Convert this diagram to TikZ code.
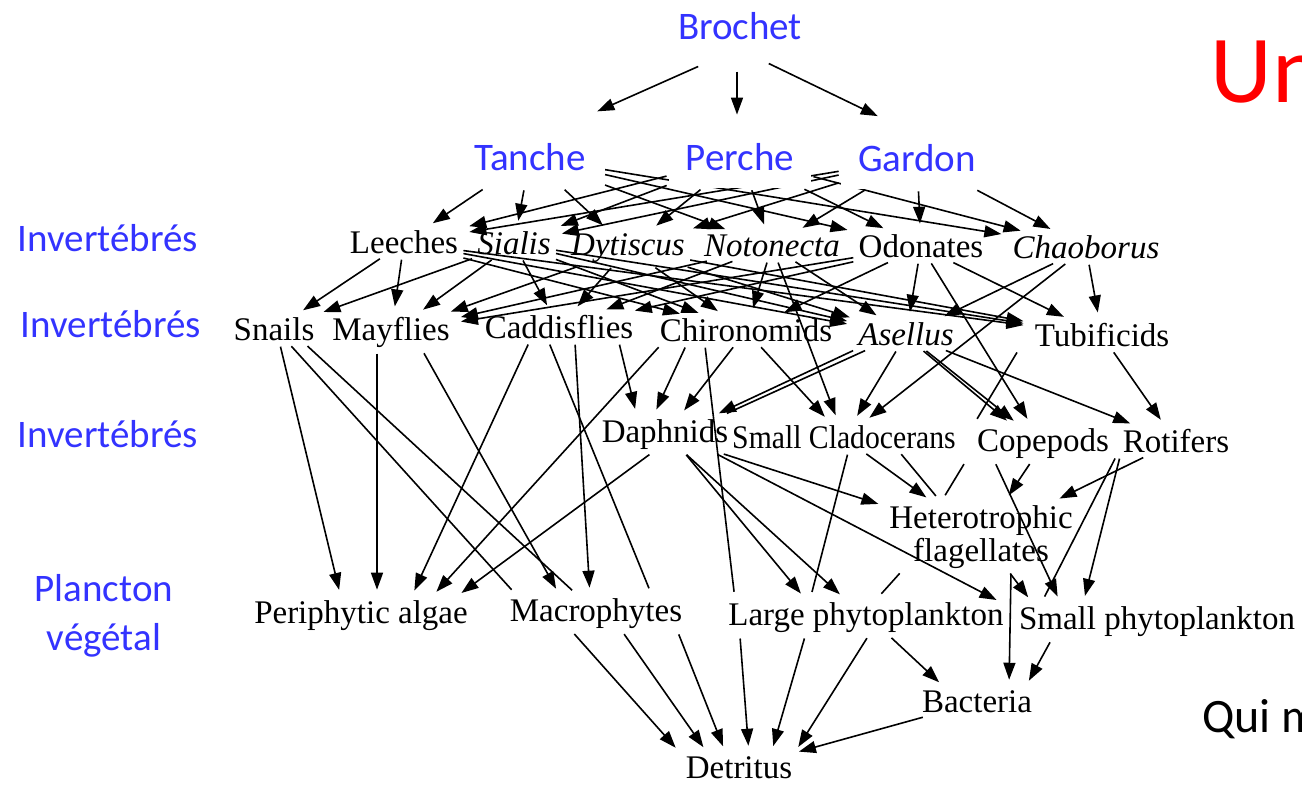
\documentclass[tikz,border=0pt]{standalone}
\usepackage{fontspec}
\setmainfont{Liberation Serif}
\newfontfamily\slidefont{Carlito}
\newfontfamily\narrowserif[FakeStretch=0.9]{Liberation Serif}
\usetikzlibrary{arrows.meta}
\definecolor{slideblue}{RGB}{51,51,255}
\pgfdeclarelayer{background}
\pgfsetlayers{background,main}

\begin{document}
\begin{tikzpicture}[x=0.5pt,y=-0.5pt,
  taxon/.style={font=\fontsize{16.5}{19}\selectfont,inner sep=1.5pt,anchor=base},
  genus/.style={taxon,font=\fontsize{16.5}{19}\selectfont\itshape},
  level/.style={font=\slidefont\fontsize{19.5}{24.5}\selectfont,text=slideblue,inner sep=1.5pt,anchor=base},
  fish/.style={level,fill=white,inner xsep=8.5pt,inner ysep=8.5pt,text height=13.5pt,text depth=0pt},
  eat/.style={-{Triangle[length=8.5pt,width=6pt]},line width=0.8pt,shorten >=4pt,shorten <=1pt},
  eatline/.style={line width=0.8pt,shorten >=4pt,shorten <=1pt}]
\useasboundingbox (0,0) rectangle (1302,785);
\clip (0,0) rectangle (1302,785);
\node[level] (brochet) at (740,40) {Brochet};
\node[fish] (tanche) at (530,171) {Tanche};
\node[fish] (perche) at (740,171) {Perche};
\node[fish] (gardon) at (917,172) {Gardon};
\node[level] (inva) at (108,252) {Invertébrés};
\node[level] (invb) at (111,338) {Invertébrés};
\node[level] (invc) at (108,448) {Invertébrés};
\node[level,align=center,anchor=center] (plancton) at (104,616) {Plancton\\végétal};
\node[taxon] (leeches) at (404,254) {Leeches};
\node[genus] (sialis) at (514,255) {Sialis};
\node[genus] (dytiscus) at (628,256) {Dytiscus};
\node[genus] (notonecta) at (772,257) {Notonecta};
\node[taxon] (odonates) at (921,258) {Odonates};
\node[genus] (chaoborus) at (1086,259) {Chaoborus};
\node[taxon] (snails) at (274,341) {Snails};
\node[taxon] (mayflies) at (391,341) {Mayflies};
\node[taxon] (caddisflies) at (559,339) {Caddisflies};
\node[taxon] (chironomids) at (746,342) {Chironomids};
\node[genus] (asellus) at (906,346) {Asellus};
\node[taxon] (tubificids) at (1102,347) {Tubificids};
\node[taxon] (daphnids) at (665,443) {Daphnids};
\node[taxon,font=\narrowserif\fontsize{16.5}{19}\selectfont] (smallclad) at (844,449) {Small Cladocerans};
\node[taxon] (copepods) at (1043,452) {Copepods};
\node[taxon] (rotifers) at (1176,453) {Rotifers};
\node[taxon,align=center,anchor=center,font=\fontsize{16.5}{16.5}\selectfont] (hetflag) at (981,537) {Heterotrophic\\flagellates};
\node[taxon] (periphytic) at (361,624) {Periphytic algae};
\node[taxon] (macrophytes) at (596,622) {Macrophytes};
\node[taxon] (largephyto) at (866,626) {Large phytoplankton};
\node[taxon] (smallphyto) at (1157,630) {Small phytoplankton};
\node[taxon] (bacteria) at (977,713) {Bacteria};
\node[taxon] (detritus) at (739,779) {Detritus};
\node[anchor=base west,inner sep=0pt,text=red,font=\slidefont\fontsize{48}{48}\selectfont] (title) at (1210,103) {Un};
\node[anchor=base west,inner sep=0pt,font=\slidefont\fontsize{24}{24}\selectfont] (question) at (1202,733) {Qui m};
\begin{pgfonlayer}{background}
\fill[white] (0,0) rectangle (1302,785);
\draw[eat] ([xshift=-20pt,yshift=-11pt]brochet.south) -- ([xshift=30pt,yshift=6pt]tanche.north);
\draw[eat] ([xshift=-1.5pt,yshift=-13pt]brochet.south) -- ([xshift=-1.5pt,yshift=2pt]perche.north);
\draw[eat] ([xshift=13.5pt,yshift=-9.5pt]brochet.south) -- ([xshift=-16pt,yshift=4pt]gardon.north);
\draw[eat] (tanche) -- (leeches);
\draw[eat] (tanche) -- (sialis);
\draw[eat] (tanche) -- (dytiscus);
\draw[eat] (tanche) -- (notonecta);
\draw[eat] (tanche) -- (odonates);
\draw[eat] (tanche) -- (chaoborus);
\draw[eat] (perche) -- (leeches);
\draw[eat] (perche) -- (sialis);
\draw[eat] (perche) -- (dytiscus);
\draw[eat] (perche) -- (notonecta);
\draw[eat] (perche) -- (odonates);
\draw[eat] (perche) -- (chaoborus);
\draw[eat] (gardon) -- (leeches);
\draw[eat] (gardon) -- (sialis);
\draw[eat] (gardon) -- (dytiscus);
\draw[eat] (gardon) -- (notonecta);
\draw[eat] (gardon) -- (odonates);
\draw[eat] (gardon) -- (chaoborus);
\draw[eat] (leeches) -- (snails);
\draw[eat] (leeches) -- (mayflies);
\draw[eat] (leeches) -- (chironomids);
\draw[eat] (leeches) -- (asellus);
\draw[eat] (leeches) -- (tubificids);
\draw[eat] (sialis) -- (snails);
\draw[eat] (sialis) -- (mayflies);
\draw[eat] (sialis) -- (caddisflies);
\draw[eat] (sialis) -- (chironomids);
\draw[eat] (sialis) -- (asellus);
\draw[eat] (sialis) -- (tubificids);
\draw[eat] (dytiscus) -- (mayflies);
\draw[eat] (dytiscus) -- (caddisflies);
\draw[eat] (dytiscus) -- (chironomids);
\draw[eat] (dytiscus) -- (asellus);
\draw[eat] (dytiscus) -- (tubificids);
\draw[eat] (notonecta) -- (mayflies);
\draw[eat] (notonecta) -- (caddisflies);
\draw[eat] (notonecta) -- (chironomids);
\draw[eat] (notonecta) -- (asellus);
\draw[eat] (notonecta) -- (smallclad);
\draw[eat] (odonates) -- (mayflies);
\draw[eat] (odonates) -- (caddisflies);
\draw[eat] (odonates) -- (chironomids);
\draw[eat] (odonates) -- (asellus);
\draw[eat] (odonates) -- (tubificids);
\draw[eat] (odonates) -- (copepods);
\draw[eat] (chaoborus) -- (asellus);
\draw[eat] (chaoborus) -- (smallclad);
\draw[eat] (chaoborus) -- (tubificids);
\draw[eat] ([xshift=3pt]snails.south) -- ([xshift=-10pt]periphytic.north);
\draw[eatline] ([xshift=8pt]snails.south) -- ([xshift=-39.5pt]macrophytes.north);
\draw[eatline] ([xshift=16pt]snails.south) -- ([xshift=-9pt]macrophytes.north);
\draw[eat] ([xshift=-7pt]mayflies.south) -- ([xshift=8pt]periphytic.north);
\draw[eat] ([xshift=16pt]mayflies.south) -- ([xshift=-18pt]macrophytes.north);
\draw[eat] ([xshift=-15pt]caddisflies.south) -- ([xshift=25pt]periphytic.north);
\draw[eat] ([xshift=8pt]caddisflies.south) -- ([xshift=-3pt]macrophytes.north);
\draw[eatline] ([xshift=-5pt]caddisflies.south) -- ([xshift=28pt]macrophytes.north);
\draw[eat] ([xshift=30pt]caddisflies.south) -- ([xshift=-14pt]daphnids.north);
\draw[eat] ([xshift=-43pt]chironomids.south) -- ([xshift=35pt]periphytic.north);
\draw[eat] (chironomids) -- (daphnids);
\draw[eat] ([xshift=-30pt]chironomids.south) -- ([xshift=-6pt]daphnids.north);
\draw[eatline] ([xshift=-20.5pt]chironomids.south) -- ([xshift=-65.5pt]largephyto.north);
\draw[eat] (chironomids) -- (smallclad);
\draw[eat] (asellus.south west) -- ([xshift=-10pt]daphnids.north east);
\draw[eatline] ([xshift=6pt]asellus.south west) -- ([xshift=-6pt]daphnids.north east);
\draw[eat] (asellus) -- (smallclad);
\draw[eat] (asellus) -- (copepods);
\draw[eat] ([xshift=8pt]asellus.south) -- ([xshift=-15pt]copepods.north);
\draw[eat] (asellus) -- (rotifers);
\draw[eat] (tubificids) -- (rotifers);
\draw[eatline] ([xshift=-42pt]tubificids.south) -- ([xshift=-35pt]copepods.north);
\draw[eat] ([xshift=-7pt]daphnids.south) -- ([xshift=47pt]periphytic.north);
\draw[eat] (daphnids) -- (hetflag);
\draw[eat] (daphnids) -- (largephyto);
\draw[eat] ([xshift=10pt]daphnids.south) -- ([xshift=-30pt]largephyto.north);
\draw[eat] ([xshift=-8pt]daphnids.south east) -- ([xshift=-6pt]smallphyto.north west);
\draw[eat] (smallclad) -- (hetflag);
\draw[eatline] ([xshift=2pt]smallclad.south) -- ([xshift=-28pt]largephyto.north);
\draw[eatline] ([xshift=28pt]smallclad.south) -- ([xshift=-20pt]hetflag.north);
\draw[eatline] ([xshift=-39pt]copepods.south) -- ([xshift=-20pt]hetflag.north);
\draw[eat] (copepods) -- (hetflag);
\draw[eat] ([xshift=-24pt]copepods.south) -- ([xshift=-48pt]smallphyto.north);
\draw[eat] (rotifers) -- (hetflag);
\draw[eat] ([xshift=-28pt]rotifers.south) -- ([xshift=-37pt]smallphyto.north);
\draw[eatline] ([xshift=-30pt]rotifers.south) -- ([xshift=-58pt]smallphyto.north);
\draw[eat] ([xshift=14pt]hetflag.south) -- ([xshift=-62pt]smallphyto.north);
\draw[eat] ([xshift=15pt]hetflag.south) -- ([xshift=16pt]bacteria.north);
\draw[eatline] ([xshift=-40pt]hetflag.south) -- ([xshift=5pt]largephyto.north);
\draw[eat] ([xshift=12pt]largephyto.south) -- ([xshift=-16pt]bacteria.north);
\draw[eat] ([xshift=-53pt]smallphyto.south) -- ([xshift=24pt]bacteria.north);
\draw[eat] ([xshift=-11.5pt]macrophytes.south) -- ([xshift=-29pt]detritus.north);
\draw[eat] ([xshift=13.5pt]macrophytes.south) -- ([xshift=-15.5pt]detritus.north);
\draw[eat] ([xshift=41pt]macrophytes.south) -- ([xshift=-6.5pt]detritus.north);
\draw[eat] ([xshift=-63pt]largephyto.south) -- ([xshift=5pt]detritus.north);
\draw[eat] ([xshift=-30.5pt]largephyto.south) -- ([xshift=16pt]detritus.north);
\draw[eat] ([xshift=1pt]largephyto.south) -- ([xshift=27.5pt]detritus.north);
\draw[eat] (bacteria) -- (detritus);
\end{pgfonlayer}
\end{tikzpicture}
\end{document}
